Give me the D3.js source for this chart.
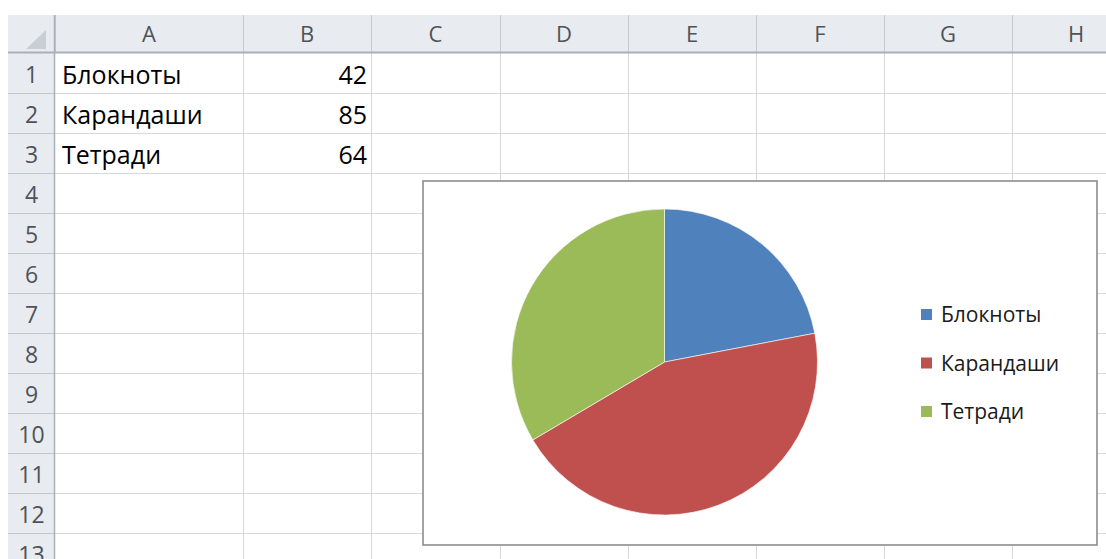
<!DOCTYPE html>
<html>
<head>
<meta charset="utf-8">
<script src="https://cdn.jsdelivr.net/npm/d3@7"></script>
<style>
  body { margin: 0; background: #fff; }
  text { font-family: "Open Sans", sans-serif; }
</style>
</head>
<body>
<div id="chart"></div>
<script>
// data
var categories = ["Блокноты", "Карандаши", "Тетради"];
var values = [42, 85, 64];
var columnLabels = ["A", "B", "C", "D", "E", "F", "G", "H"];
var rowLabels = [1, 2, 3, 4, 5, 6, 7, 8, 9, 10, 11, 12, 13];
var colors = ["#4F81BD", "#C0504D", "#9BBB59"];

var width = 1106, height = 559;

// sheet layout
var headerTop = 15, headerBottom = 53, rowHeaderLeft = 8, rowHeaderRight = 55;
var colWidths = [188, 128, 129, 128, 128, 128, 128, 128];
var colEdges = [rowHeaderRight];
colWidths.forEach(function(w, i) { colEdges.push(colEdges[i] + w); });

var rowScale = d3.scaleLinear().domain([0, rowLabels.length]).range([headerBottom, headerBottom + rowLabels.length * 40]);

var svg = d3.select("#chart").append("svg")
  .attr("width", width)
  .attr("height", height);

svg.append("rect").attr("width", width).attr("height", height).attr("fill", "#fff");

// cell grid
var grid = svg.append("g");
grid.selectAll(".hline")
  .data(d3.range(1, rowLabels.length + 1))
  .enter().append("line")
  .attr("x1", rowHeaderRight).attr("x2", width)
  .attr("y1", function(d) { return rowScale(d) + 0.5; })
  .attr("y2", function(d) { return rowScale(d) + 0.5; })
  .attr("stroke", "#d6d8db");
grid.selectAll(".vline")
  .data(colEdges.slice(1))
  .enter().append("line")
  .attr("x1", function(d) { return d + 0.5; })
  .attr("x2", function(d) { return d + 0.5; })
  .attr("y1", headerBottom).attr("y2", height)
  .attr("stroke", "#d6d8db");

// headers
var head = svg.append("g");
head.append("rect")
  .attr("x", rowHeaderLeft).attr("y", headerTop)
  .attr("width", width - rowHeaderLeft).attr("height", headerBottom - headerTop)
  .attr("fill", "#e8ecf1");
head.append("rect")
  .attr("x", rowHeaderLeft).attr("y", headerBottom)
  .attr("width", rowHeaderRight - rowHeaderLeft).attr("height", height - headerBottom)
  .attr("fill", "#e8ecf1");

// corner triangle
head.append("path")
  .attr("d", "M26,49L46,49L46,30Z")
  .attr("fill", "#c9ced5");

head.selectAll(".colsep")
  .data(colEdges)
  .enter().append("line")
  .attr("x1", function(d) { return d + 0.5; })
  .attr("x2", function(d) { return d + 0.5; })
  .attr("y1", headerTop).attr("y2", headerBottom)
  .attr("stroke", "#c3c9d0");
head.selectAll(".rowsep")
  .data(d3.range(1, rowLabels.length + 1))
  .enter().append("line")
  .attr("x1", rowHeaderLeft).attr("x2", rowHeaderRight)
  .attr("y1", function(d) { return rowScale(d) + 0.5; })
  .attr("y2", function(d) { return rowScale(d) + 0.5; })
  .attr("stroke", "#c3c9d0");
head.append("line")
  .attr("x1", rowHeaderLeft).attr("x2", width)
  .attr("y1", headerBottom - 0.5).attr("y2", headerBottom - 0.5)
  .attr("stroke", "#a9b0b9").attr("stroke-width", 2);
head.append("line")
  .attr("x1", rowHeaderRight - 0.5).attr("x2", rowHeaderRight - 0.5)
  .attr("y1", headerTop).attr("y2", height)
  .attr("stroke", "#a9b0b9").attr("stroke-width", 1.5);

head.selectAll(".collabel")
  .data(columnLabels)
  .enter().append("text")
  .attr("x", function(d, i) { return (colEdges[i] + colEdges[i + 1]) / 2; })
  .attr("y", 42)
  .attr("text-anchor", "middle")
  .attr("font-size", 22)
  .attr("fill", "#4f5358")
  .text(function(d) { return d; });

head.selectAll(".rowlabel")
  .data(rowLabels)
  .enter().append("text")
  .attr("x", (rowHeaderLeft + rowHeaderRight) / 2)
  .attr("y", function(d, i) { return rowScale(i) + 30; })
  .attr("text-anchor", "middle")
  .attr("font-size", 23)
  .attr("fill", "#4f5358")
  .text(function(d) { return d; });

// cell contents
var cells = svg.append("g");
cells.selectAll(".name")
  .data(categories)
  .enter().append("text")
  .attr("x", colEdges[0] + 7)
  .attr("y", function(d, i) { return rowScale(i) + 31; })
  .attr("font-size", 25)
  .attr("fill", "#000")
  .text(function(d) { return d; });
cells.selectAll(".val")
  .data(values)
  .enter().append("text")
  .attr("x", colEdges[2] - 4)
  .attr("y", function(d, i) { return rowScale(i) + 31; })
  .attr("text-anchor", "end")
  .attr("font-size", 25)
  .attr("fill", "#000")
  .text(function(d) { return d; });

// chart object
var box = {x: 423, y: 181, w: 674, h: 364};
svg.append("rect")
  .attr("x", box.x).attr("y", box.y)
  .attr("width", box.w).attr("height", box.h)
  .attr("fill", "#fff")
  .attr("stroke", "#858585")
  .attr("stroke-width", 1.5);

var pie = d3.pie().sort(null).value(function(d) { return d; });
var arc = d3.arc().innerRadius(0).outerRadius(153);

svg.append("g")
  .attr("transform", "translate(664.5,362)")
  .selectAll("path")
  .data(pie(values))
  .enter().append("path")
  .attr("d", arc)
  .attr("fill", function(d, i) { return colors[i]; })
  .attr("stroke", "#fff")
  .attr("stroke-width", 0.6);

// legend
var legendY = d3.scalePoint().domain(categories).range([315, 412]);
var legend = svg.append("g").selectAll("g")
  .data(categories)
  .enter().append("g")
  .attr("transform", function(d) { return "translate(921," + legendY(d) + ")"; });
legend.append("rect")
  .attr("x", 0).attr("y", -6)
  .attr("width", 11).attr("height", 11)
  .attr("fill", function(d, i) { return colors[i]; });
legend.append("text")
  .attr("x", 20).attr("y", 7)
  .attr("font-size", 21)
  .attr("fill", "#1a1a1a")
  .text(function(d) { return d; });
</script>
</body>
</html>
